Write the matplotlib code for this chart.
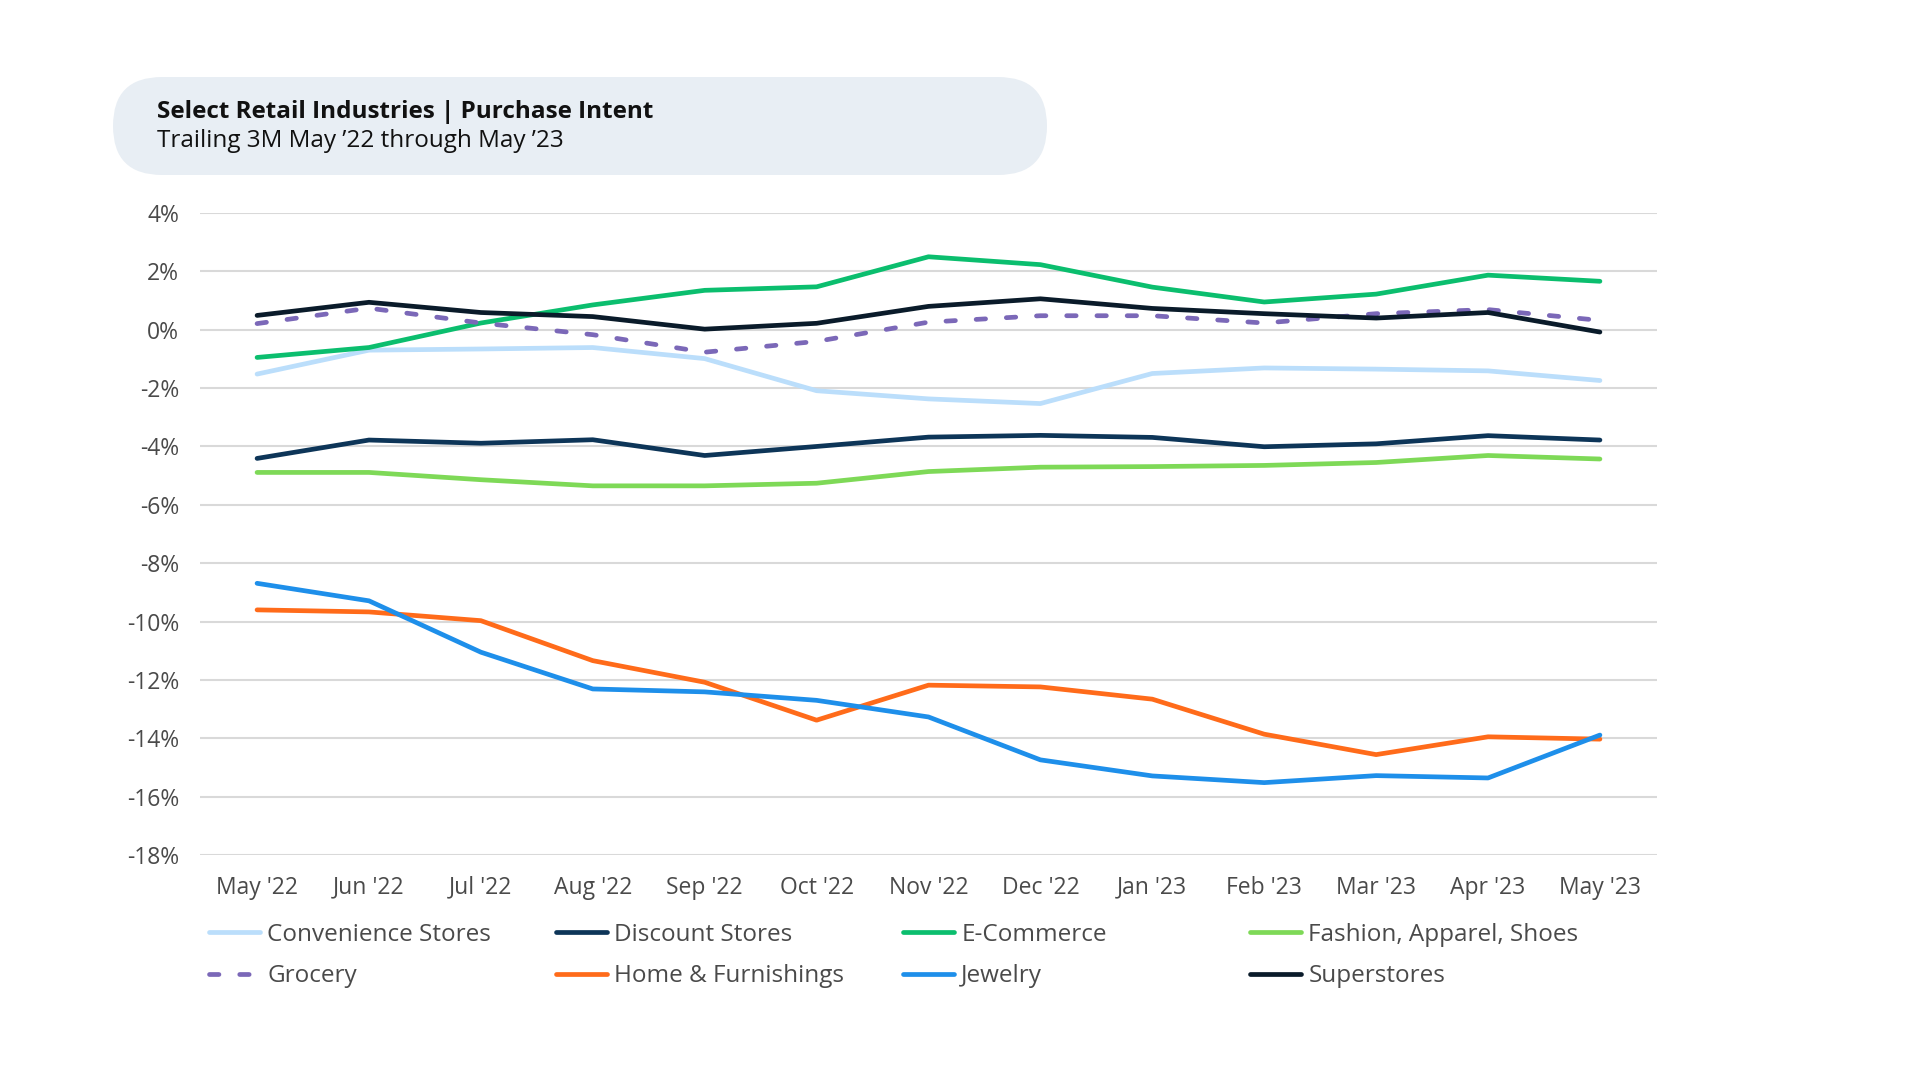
import matplotlib
matplotlib.use("Agg")
import matplotlib.pyplot as plt
from matplotlib.patches import FancyBboxPatch
from matplotlib.ticker import FixedLocator

plt.rcParams['font.family'] = ['Open Sans', 'DejaVu Sans']

months = ["May '22", "Jun '22", "Jul '22", "Aug '22", "Sep '22", "Oct '22", "Nov '22",
          "Dec '22", "Jan '23", "Feb '23", "Mar '23", "Apr '23", "May '23"]

convenience = [-1.52, -0.70, -0.66, -0.61, -0.99, -2.09, -2.37, -2.53, -1.50, -1.31, -1.35, -1.41, -1.74]
discount = [-4.41, -3.78, -3.89, -3.77, -4.31, -4.00, -3.68, -3.62, -3.69, -4.01, -3.91, -3.63, -3.78]
ecommerce = [-0.95, -0.61, 0.23, 0.85, 1.35, 1.47, 2.50, 2.23, 1.46, 0.95, 1.22, 1.87, 1.66]
fashion = [-4.89, -4.89, -5.14, -5.35, -5.35, -5.26, -4.86, -4.71, -4.69, -4.65, -4.55, -4.31, -4.43]
grocery = [0.21, 0.74, 0.23, -0.17, -0.77, -0.40, 0.26, 0.48, 0.48, 0.23, 0.55, 0.69, 0.32]
home = [-9.60, -9.67, -9.97, -11.34, -12.08, -13.38, -12.18, -12.24, -12.66, -13.86, -14.56, -13.95, -14.03]
jewelry = [-8.69, -9.29, -11.05, -12.31, -12.41, -12.70, -13.27, -14.74, -15.29, -15.52, -15.28, -15.36, -13.89]
superstores = [0.49, 0.94, 0.59, 0.45, 0.02, 0.22, 0.80, 1.06, 0.73, 0.55, 0.40, 0.59, -0.08]

series_names = ["Convenience Stores", "Discount Stores", "E-Commerce", "Fashion, Apparel, Shoes",
                "Grocery", "Home & Furnishings", "Jewelry", "Superstores"]
series_values = [convenience, discount, ecommerce, fashion, grocery, home, jewelry, superstores]
colors = ["#BBDEFB", "#0D3558", "#0BBE6E", "#7ED957", "#7B68B8", "#FF6B1A", "#1E8FEA", "#0A1B2A"]
dashed = [False, False, False, False, True, False, False, False]

y_ticks = [4, 2, 0, -2, -4, -6, -8, -10, -12, -14, -16, -18]

W, H = 1920, 1080
fig = plt.figure(figsize=(W / 100, H / 100), dpi=100)

# background layer in pixel coordinates
bg = fig.add_axes([0, 0, 1, 1])
bg.set_xlim(0, W)
bg.set_ylim(H, 0)
bg.axis('off')
pill = FancyBboxPatch((113, 77), 934, 98, boxstyle="round,pad=0,rounding_size=49",
                      facecolor="#E8EEF4", edgecolor="none")
bg.add_patch(pill)
bg.text(157, 112, "Select Retail Industries | Purchase Intent", fontsize=17.5,
        fontweight='bold', color="#111111", va='center', ha='left')
bg.text(157, 141, "Trailing 3M May \u201922 through May \u201923", fontsize=17.5,
        color="#111111", va='center', ha='left')

ax = fig.add_axes([200 / W, (H - 855) / H, 1457 / W, (855 - 213) / H])
x = list(range(len(months)))
handles = []
for name, vals, c, d in zip(series_names, series_values, colors, dashed):
    if d:
        ln, = ax.plot(x, vals, color=c, lw=3.4, ls=(0, (2.0, 4.4)), label=name,
                      dash_capstyle='round')
    else:
        ln, = ax.plot(x, vals, color=c, lw=3.4, label=name, solid_capstyle='round')
    handles.append(ln)

ax.set_xlim(-0.51, len(months) - 1 + 0.51)
ax.set_ylim(-18, 4)
ax.yaxis.set_major_locator(FixedLocator(y_ticks))
ax.set_yticklabels([f"{t}%" for t in y_ticks])
ax.set_xticks(x)
ax.set_xticklabels(months)
ax.grid(axis='y', color="#D9D9D9", lw=1.5)
ax.set_axisbelow(True)
for s in ax.spines.values():
    s.set_visible(False)
ax.tick_params(axis='both', length=0, labelsize=16.5, colors="#4A4A4A")
ax.tick_params(axis='y', pad=15)
ax.tick_params(axis='x', pad=15)

col_x = [209, 556, 903, 1250]
for i in range(4):
    fig.legend(handles=[handles[i], handles[i + 4]], loc='upper left',
               bbox_to_anchor=(col_x[i] / W, 1 - 923 / H), frameon=False,
               fontsize=17.5, handlelength=2.1, handletextpad=0.3,
               labelspacing=0.72, borderpad=0, borderaxespad=0,
               labelcolor="#4A4A4A")

fig.savefig("out.png", dpi=100, facecolor='white')
